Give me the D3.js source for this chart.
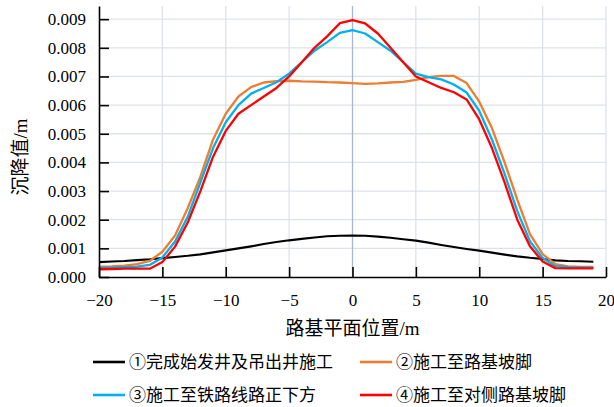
<!DOCTYPE html>
<html>
<head>
<meta charset="utf-8">
<script src="https://cdn.jsdelivr.net/npm/d3@7"></script>
<style>
  body { margin: 0; background: #fff; }
  svg { display: block; }
</style>
</head>
<body>
<div id="chart"></div>
<script>
// positions along the subgrade section (m)
const positions = [-20, -19, -18, -17, -16, -15, -14, -13, -12, -11, -10, -9, -8, -7, -6, -5, -4, -3, -2, -1,
  0, 1, 2, 3, 4, 5, 6, 7, 8, 9, 10, 11, 12, 13, 14, 15, 16, 17, 18, 19];

// settlement (m) for each construction stage
const stage1 = [0.00052, 0.00054, 0.00056, 0.00059, 0.00062, 0.00066, 0.0007, 0.00074, 0.00079, 0.00086,
  0.00093, 0.001, 0.00107, 0.00115, 0.00122, 0.00128, 0.00133, 0.00138, 0.00142, 0.00144,
  0.00145, 0.00144, 0.00141, 0.00137, 0.00132, 0.00127, 0.0012, 0.00112, 0.00105, 0.00098,
  0.00092, 0.00085, 0.00078, 0.00072, 0.00067, 0.00063, 0.00058, 0.00056, 0.00055, 0.00053];
const stage2 = [0.00036, 0.00037, 0.0004, 0.00045, 0.00056, 0.00088, 0.00145, 0.0024, 0.0035, 0.0048,
  0.0057, 0.0063, 0.00663, 0.00679, 0.00684, 0.00685, 0.00683, 0.00682, 0.0068, 0.00679,
  0.00677, 0.00674, 0.00676, 0.00679, 0.00681, 0.00688, 0.00698, 0.00702, 0.00702, 0.00677,
  0.00612, 0.0052, 0.004, 0.0027, 0.0015, 0.0008, 0.00045, 0.00037, 0.00035, 0.00035];
const stage3 = [0.00032, 0.00033, 0.00034, 0.00036, 0.00042, 0.00068, 0.00124, 0.0021, 0.0033, 0.0045,
  0.0054, 0.006, 0.0064, 0.0066, 0.0068, 0.0071, 0.0075, 0.0079, 0.0082, 0.00852,
  0.00862, 0.0085, 0.0082, 0.0079, 0.0075, 0.0071, 0.00698, 0.0069, 0.00672, 0.00644,
  0.0058, 0.0048, 0.0036, 0.0023, 0.00125, 0.00066, 0.00038, 0.00034, 0.00033, 0.00033];
const stage4 = [0.00027, 0.00028, 0.00029, 0.00029, 0.00029, 0.00052, 0.00106, 0.0019, 0.003, 0.0042,
  0.0051, 0.0057, 0.006, 0.0063, 0.0066, 0.007, 0.0075, 0.008, 0.0084, 0.00886,
  0.00897, 0.00885, 0.0085, 0.008, 0.0075, 0.007, 0.0068, 0.0066, 0.00645, 0.0062,
  0.0055, 0.0045, 0.0033, 0.002, 0.00107, 0.00054, 0.00031, 0.0003, 0.0003, 0.0003];

const seriesNames = ["①完成始发井及吊出井施工", "②施工至路基坡脚", "③施工至铁路线路正下方", "④施工至对侧路基坡脚"];
const seriesColors = ["#000000", "#ED7D31", "#00B0F0", "#FF0000"];
const xTicks = [-20, -15, -10, -5, 0, 5, 10, 15, 20];
const yTicks = [0, 0.001, 0.002, 0.003, 0.004, 0.005, 0.006, 0.007, 0.008, 0.009];

const series = [stage1, stage2, stage3, stage4].map((vals, i) => ({
  name: seriesNames[i],
  color: seriesColors[i],
  points: positions.map((p, j) => ({ x: p, y: vals[j] }))
}));

const W = 614, H = 407;
const margin = { top: 6, right: 8, bottom: 130, left: 99 };
const width = W - margin.left - margin.right;
const height = H - margin.top - margin.bottom;

const serif = "'Liberation Serif', 'Times New Roman', serif";
const cjk = "'Liberation Serif', 'Noto Sans CJK SC', serif";

const svg = d3.select("#chart").append("svg")
    .attr("width", W)
    .attr("height", H);

const g = svg.append("g")
    .attr("transform", "translate(" + margin.left + "," + margin.top + ")");

const x = d3.scaleLinear().domain([-20, 20]).range([0, width]);
const y = d3.scaleLinear().domain([0, 0.00946]).range([height, 0]);

// grid
g.append("g").selectAll("line")
    .data(yTicks.filter(d => d > 0))
    .enter().append("line")
    .attr("x1", 0).attr("x2", width)
    .attr("y1", d => y(d)).attr("y2", d => y(d))
    .attr("stroke", "#dde2ea").attr("stroke-width", 1.3);

g.append("g").selectAll("line")
    .data(xTicks.filter(d => d > -20))
    .enter().append("line")
    .attr("x1", d => x(d)).attr("x2", d => x(d))
    .attr("y1", 0).attr("y2", height)
    .attr("stroke", d => d === 0 ? "#a9b6cc" : "#dde2ea")
    .attr("stroke-width", 1.3);

// curves
const line = d3.line().x(d => x(d.x)).y(d => y(d.y));

g.append("g").selectAll("path")
    .data(series)
    .enter().append("path")
    .attr("d", d => line(d.points))
    .attr("fill", "none")
    .attr("stroke", d => d.color)
    .attr("stroke-width", (d, i) => i === 0 ? 2.1 : 2.3)
    .attr("stroke-linejoin", "round");

// axes
const xAxis = g.append("g")
    .attr("transform", "translate(0," + height + ")")
    .call(d3.axisBottom(x).tickValues(xTicks).tickSize(-10).tickSizeOuter(0).tickPadding(17));

const yAxis = g.append("g")
    .call(d3.axisLeft(y).tickValues(yTicks).tickFormat(d3.format(".3f")).tickSize(-10).tickSizeOuter(0).tickPadding(13));

[xAxis, yAxis].forEach(ax => {
  ax.select(".domain").attr("stroke", "#000").attr("stroke-width", 1.6);
  ax.selectAll(".tick line").attr("stroke", "#000").attr("stroke-width", 1.6);
  ax.selectAll("text")
      .attr("fill", "#000")
      .style("font-family", serif)
      .style("font-size", "17px");
});

// axis titles
svg.append("text")
    .attr("transform", "translate(20,157) rotate(-90)")
    .attr("text-anchor", "middle")
    .attr("dominant-baseline", "central")
    .style("font-family", cjk)
    .style("font-size", "19px")
    .text("沉降值/m");

svg.append("text")
    .attr("x", margin.left + width / 2)
    .attr("y", 328)
    .attr("text-anchor", "middle")
    .attr("dominant-baseline", "central")
    .style("font-family", cjk)
    .style("font-size", "19px")
    .text("路基平面位置/m");

// legend
const legendPos = [[93, 362], [360, 362], [93, 395], [360, 395]];
const legend = svg.append("g").selectAll("g")
    .data(series)
    .enter().append("g")
    .attr("transform", (d, i) => "translate(" + legendPos[i][0] + "," + legendPos[i][1] + ")");

legend.append("line")
    .attr("x1", 0).attr("x2", 32)
    .attr("stroke", d => d.color)
    .attr("stroke-width", (d, i) => i === 0 ? 2.6 : 2.6);

legend.append("text")
    .attr("x", 36)
    .attr("dominant-baseline", "central")
    .style("font-family", cjk)
    .style("font-size", "17px")
    .text(d => d.name);
</script>
</body>
</html>
